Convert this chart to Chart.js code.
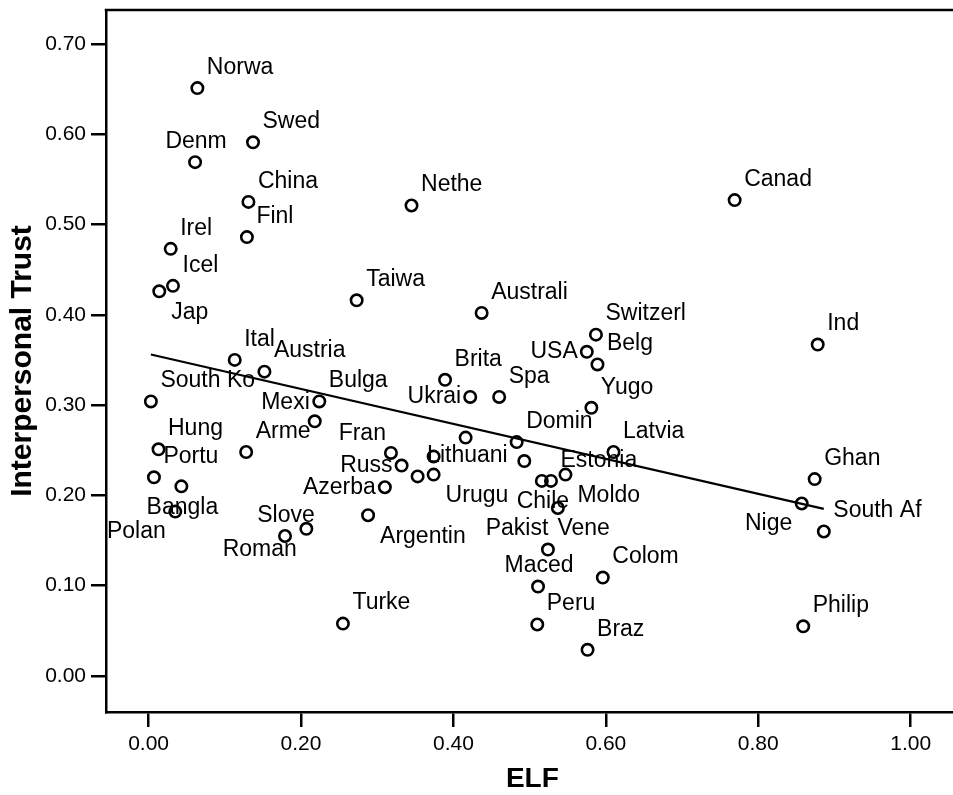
<!DOCTYPE html>
<html><head><meta charset="utf-8">
<script src="https://cdn.jsdelivr.net/npm/chart.js@4/dist/chart.umd.min.js"></script>
<style>html,body{margin:0;padding:0;overflow:hidden;background:#fff}#wrap{width:967px;height:795px}</style>
</head><body><div id="wrap"><canvas id="c" width="967" height="795"></canvas></div>
<script>
const countries = ['Norwa','Swed','Denm','China','Finl','Nethe','Irel','Icel','Jap','Taiwa',
  'Canad','Australi','Switzerl','Belg','USA','Ind','Ital','Austria','South Ko','Bulga',
  'Mexi','Brita','Ukrai','Spa','Yugo','','Domin','Latvia','Hung','Arme',
  'Portu','Bangla','Polan','Fran','Russ','Lithuani','','Urugu','Azerba','Argentin',
  'Slove','Roman','','Chile','Estonia','Moldo','Pakist','Vene','Colom','Maced',
  'Peru','Braz','Turke','Ghan','Nige','South Af','Philip'];
const elf = [0.064,0.137,0.061,0.131,0.129,0.345,0.029,0.032,0.014,0.273,
  0.769,0.437,0.587,0.589,0.575,0.878,0.113,0.152,0.003,0.224,
  0.218,0.389,0.422,0.460,0.581,0.416,0.483,0.610,0.013,0.128,
  0.007,0.043,0.035,0.318,0.332,0.353,0.374,0.374,0.310,0.288,
  0.179,0.207,0.493,0.516,0.528,0.547,0.537,0.524,0.596,0.511,
  0.510,0.576,0.255,0.874,0.857,0.886,0.859];
const trust = [0.651,0.591,0.569,0.525,0.486,0.521,0.473,0.432,0.426,0.416,
  0.527,0.402,0.378,0.345,0.359,0.367,0.350,0.337,0.304,0.304,
  0.282,0.328,0.309,0.309,0.297,0.264,0.259,0.248,0.251,0.248,
  0.220,0.210,0.182,0.247,0.233,0.221,0.243,0.223,0.209,0.178,
  0.155,0.163,0.238,0.216,0.216,0.223,0.186,0.140,0.109,0.099,
  0.057,0.029,0.058,0.218,0.191,0.160,0.055];
const xTicks = [0, 0.2, 0.4, 0.6, 0.8, 1.0];
const xTickLabels = ['0.00','0.20','0.40','0.60','0.80','1.00'];
const yTicks = [0, 0.1, 0.2, 0.3, 0.4, 0.5, 0.6, 0.7];
const yTickLabels = ['0.00','0.10','0.20','0.30','0.40','0.50','0.60','0.70'];
const fitElf = [0.003, 0.886];
const fitTrust = [0.356, 0.185];

const FONT = "'Liberation Sans', Arial, Helvetica, sans-serif";

const labelOptions = {
  placement: {
    'Denm':'n','Jap':'se','USA':'w','Mexi':'nw','Ukrai':'w','Bangla':'s','Polan':'sw',
    'Fran':'nw','Russ':'w','Urugu':'se','Azerba':'w','Argentin':'se','Slove':'n','Roman':'sw',
    'Chile':'s','Moldo':'se','Pakist':'sw','Maced':'n','Nige':'sw'
  },
  offsets: {
    ne:{align:'left',dx:9.5,dy:-20.5}, se:{align:'left',dx:12,dy:21.5},
    w:{align:'right',dx:-9,dy:0}, nw:{align:'right',dx:-5,dy:-19},
    sw:{align:'right',dx:-9.5,dy:20.5}, n:{align:'center',dx:1,dy:-20.5},
    s:{align:'center',dx:1,dy:21}
  }
};

const labelPlugin = {
  id: 'pointLabels',
  afterDatasetsDraw(chart) {
    const meta = chart.getDatasetMeta(0);
    const ctx = chart.ctx;
    ctx.save();
    ctx.font = '23px ' + FONT;
    ctx.fillStyle = '#000';
    ctx.textBaseline = 'middle';
    meta.data.forEach((pt, i) => {
      const name = countries[i];
      if (!name) return;
      const o = labelOptions.offsets[labelOptions.placement[name] || 'ne'];
      ctx.textAlign = o.align;
      ctx.fillText(name, pt.x + o.dx, pt.y + o.dy);
    });
    ctx.restore();
  }
};
const framePlugin = {
  id: 'frameTop',
  afterDraw(chart) {
    const {ctx, chartArea: a} = chart;
    ctx.save();
    ctx.strokeStyle = '#000';
    ctx.lineWidth = 2.5;
    ctx.beginPath();
    ctx.moveTo(a.left - 1.25, a.top);
    ctx.lineTo(a.right, a.top);
    ctx.stroke();
    ctx.restore();
  }
};

new Chart(document.getElementById('c'), {
  type: 'scatter',
  data: {
    datasets: [
      {
        data: elf.map((x, i) => ({x: x, y: trust[i]})),
        pointStyle: 'circle', pointRadius: 5.7, pointHoverRadius: 5.7,
        borderColor: '#000', backgroundColor: 'rgba(0,0,0,0)',
        pointBorderWidth: 2.6, borderWidth: 2.6
      },
      {
        type: 'line',
        data: fitElf.map((x, i) => ({x: x, y: fitTrust[i]})),
        borderColor: '#000', borderWidth: 2.2, pointRadius: 0, fill: false, tension: 0
      }
    ]
  },
  options: {
    responsive: false, animation: false, devicePixelRatio: 1, events: [],
    layout: {padding: {top: 10, left: 0, right: 0, bottom: 0}},
    plugins: {legend: {display: false}, tooltip: {enabled: false}},
    scales: {
      x: {
        type: 'linear', position: 'bottom', min: -0.0559, max: 1.063,
        afterFit: s => { s.height = 83; s.paddingLeft = 0; s.paddingRight = 0; },
        afterBuildTicks: s => { s.ticks = xTicks.map(v => ({value: v})); },
        ticks: {
          callback: (v, i) => xTickLabels[i], font: {family: FONT, size: 21}, color: '#000',
          padding: 5, maxRotation: 0, autoSkip: false
        },
        grid: {display: true, drawOnChartArea: false, drawTicks: true, tickLength: 15,
          tickWidth: 2.5, tickColor: '#000', lineWidth: 2.5, color: '#000'},
        border: {display: true, color: '#000', width: 2.5},
        title: {display: true, text: 'ELF', color: '#000',
          font: {family: FONT, size: 28, weight: 'bold', lineHeight: 1},
          padding: {top: 0, bottom: 2}}
      },
      y: {
        type: 'linear', position: 'left', min: -0.0399, max: 0.7375,
        afterFit: s => { s.width = 106; s.paddingTop = 0; s.paddingBottom = 0; },
        afterBuildTicks: s => { s.ticks = yTicks.map(v => ({value: v})); },
        ticks: {
          callback: (v, i) => yTickLabels[i], font: {family: FONT, size: 21}, color: '#000',
          padding: 5, autoSkip: false
        },
        grid: {display: true, drawOnChartArea: false, drawTicks: true, tickLength: 15,
          tickWidth: 2.5, tickColor: '#000', lineWidth: 2.5, color: '#000'},
        border: {display: true, color: '#000', width: 2.5},
        title: {display: true, text: 'Interpersonal Trust', color: '#000',
          font: {family: FONT, size: 30, weight: 'bold', lineHeight: 1},
          padding: {top: 8, bottom: 0}}
      }
    }
  },
  plugins: [labelPlugin, framePlugin]
});
</script>
</body></html>
